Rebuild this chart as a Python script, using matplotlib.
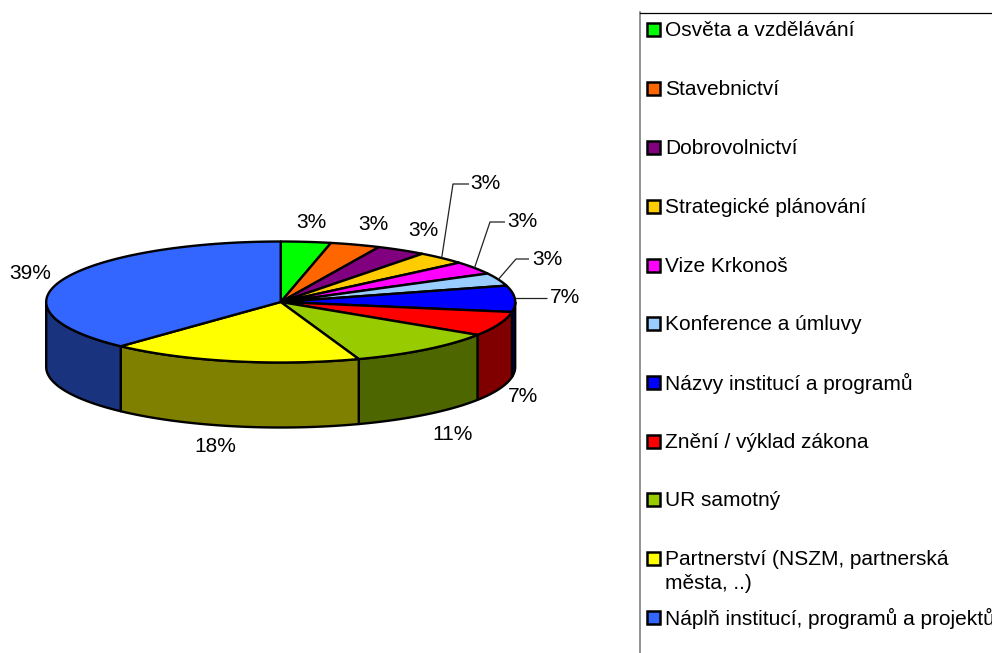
import numpy as np
import matplotlib
matplotlib.use("Agg")
import matplotlib.pyplot as plt
from matplotlib.patches import Polygon, Rectangle

plt.rcParams['font.family'] = ['Liberation Sans', 'DejaVu Sans']

categories = ["Osvěta a vzdělávání", "Stavebnictví", "Dobrovolnictví", "Strategické plánování",
              "Vize Krkonoš", "Konference a úmluvy", "Názvy institucí a programů",
              "Znění / výklad zákona", "UR samotný", "Partnerství (NSZM, partnerská\nměsta, ..)",
              "Náplň institucí, programů a projektů"]
values = [3.49, 3.49, 3.49, 3.49, 3.49, 3.49, 7.1, 6.6, 10.6, 17.6, 38.6]
top_colors = ["#00FF00", "#FF6600", "#800080", "#FFCC00", "#FF00FF", "#99CCFF",
              "#0000FF", "#FF0000", "#99CC00", "#FFFF00", "#3366FF"]
side_colors = ["#008000", "#803300", "#400040", "#806600", "#800080", "#4D6680",
               "#000080", "#800000", "#4D6600", "#808000", "#1A337F"]
label_pos = [(311, 222), (373, 224), (423, 230), (485, 183), (522, 221), (547, 259),
             (565, 297), (523, 396), (453, 434), (215, 446), (30, 273)]
leader_elbows = {3: [(453, 184), (469, 184)], 4: [(490, 222), (505, 222)],
                 5: [(516, 259), (529, 259)], 6: [(547, 298)]}
legend_y = [29, 88, 147, 206, 265, 323, 382, 441, 499, 558, 617]

CX, CY, RX, RY, DEPTH = 280.7, 302.0, 234.5, 60.5, 65.0
LW = 1.7

fig = plt.figure(figsize=(9.92, 6.53), dpi=100)
ax = fig.add_axes([0, 0, 1, 1])
ax.set_xlim(0, 992)
ax.set_ylim(653, 0)
ax.axis("off")


def rim(theta):
    t = np.radians(theta)
    return np.column_stack([CX + RX * np.sin(t), CY - RY * np.cos(t)])


edges = np.concatenate([[0], np.cumsum(values)]) * 360.0 / sum(values)

# side walls (only the front half of the rim is visible)
for a, b, col in zip(edges[:-1], edges[1:], side_colors):
    lo, hi = max(a, 90), min(b, 270)
    if hi <= lo:
        continue
    arc = rim(np.linspace(lo, hi, 80))
    low = arc[::-1] + [0, DEPTH]
    ax.add_patch(Polygon(np.vstack([arc, low]), closed=True, facecolor=col,
                         edgecolor="black", lw=LW, joinstyle="round", zorder=2))

# top wedges
for a, b, col in zip(edges[:-1], edges[1:], top_colors):
    arc = rim(np.linspace(a, b, 120))
    ax.add_patch(Polygon(np.vstack([[CX, CY], arc]), closed=True, facecolor=col,
                         edgecolor="black", lw=LW, joinstyle="round", zorder=3))

# percentage labels
for v, (x, y) in zip(values, label_pos):
    ax.text(x, y + 0.5, f"{v:.0f}%", ha="center", va="center", fontsize=15, color="black", zorder=5)

# leader lines
for i, elbow in leader_elbows.items():
    start = rim(np.array([(edges[i] + edges[i + 1]) / 2]))[0]
    if i == 6:
        start = np.array([CX + RX, CY - 4])
    pts = np.vstack([start, elbow])
    ax.plot(pts[:, 0], pts[:, 1], color="#222222", lw=0.9, zorder=4, solid_capstyle="butt")

# legend frame
ax.plot([640, 640], [12, 653], color="#808080", lw=1.2, zorder=1)
ax.plot([640, 992], [12.5, 12.5], color="black", lw=0.9, zorder=1)

# legend entries
for name, col, y in zip(categories, top_colors, legend_y):
    ax.add_patch(Rectangle((647, y - 6.5), 12.5, 13, facecolor=col, edgecolor="black", lw=1.8, zorder=3))
    ax.text(665, y + 1.5, name.split("\n")[0], ha="left", va="center", fontsize=15, color="black", clip_on=True)
    if "\n" in name:
        ax.text(665, y + 25.5, name.split("\n")[1], ha="left", va="center", fontsize=15, color="black")

fig.savefig("out.png", dpi=100, facecolor="white")
